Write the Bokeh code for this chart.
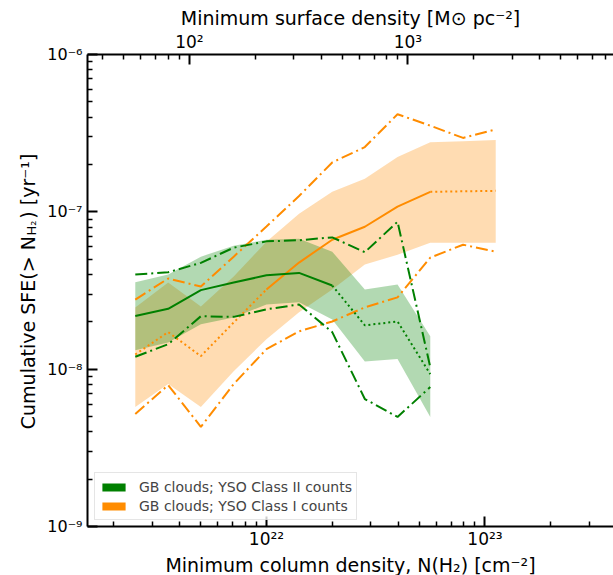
from bokeh.plotting import figure
from bokeh.layouts import row
from bokeh.models import (Range1d, LogScale, LogAxis, FixedTicker, CustomJSTickFormatter,
                          Legend, LegendItem, Title)
from bokeh.core.properties import value
from bokeh.embed import file_html
from bokeh.resources import INLINE

# ---- data ----
# minimum column density bins N(H2) [cm^-2]
nh2_orange = [2.51e21, 3.55e21, 5.01e21, 7.08e21, 1.00e22, 1.41e22,
              2.00e22, 2.82e22, 3.98e22, 5.62e22, 7.94e22, 1.12e23]
nh2_green = [2.51e21, 3.55e21, 5.01e21, 7.08e21, 1.00e22, 1.41e22,
             2.00e22, 2.82e22, 3.98e22, 5.62e22]

# YSO Class II counts (green)
green_med = [2.18e-8, 2.42e-8, 3.18e-8, 3.55e-8, 3.95e-8, 4.09e-8, 3.40e-8, 1.90e-8, 2.01e-8, 9.3e-9]
green_hi = [3.99e-8, 4.13e-8, 4.74e-8, 5.92e-8, 6.49e-8, 6.60e-8, 6.88e-8, 5.54e-8, 8.65e-8, 1.03e-8]
green_lo = [1.20e-8, 1.44e-8, 2.17e-8, 2.15e-8, 2.40e-8, 2.58e-8, 1.72e-8, 6.46e-9, 4.97e-9, 7.69e-9]
green_band_hi = [3.57e-8, 3.99e-8, 5.19e-8, 6.09e-8, 6.65e-8, 6.75e-8, 5.58e-8, 3.21e-8, 3.45e-8, 1.62e-8]
green_band_lo = [1.32e-8, 1.48e-8, 1.93e-8, 2.13e-8, 2.58e-8, 2.66e-8, 2.07e-8, 1.12e-8, 1.16e-8, 4.97e-9]

# YSO Class I counts (orange)
orange_med = [1.24e-8, 1.72e-8, 1.21e-8, 1.98e-8, 3.21e-8, 4.76e-8,
              6.65e-8, 8.04e-8, 1.08e-7, 1.34e-7, 1.35e-7, 1.36e-7]
orange_hi = [2.77e-8, 3.77e-8, 3.35e-8, 5.19e-8, 8.07e-8, 1.26e-7,
             2.06e-7, 2.58e-7, 4.17e-7, 3.53e-7, 2.95e-7, 3.34e-7]
orange_lo = [5.19e-9, 7.92e-9, 4.30e-9, 8.04e-9, 1.34e-8, 1.74e-8,
             2.01e-8, 2.47e-8, 2.86e-8, 5.12e-8, 6.18e-8, 5.58e-8]
orange_band_hi = [2.47e-8, 3.55e-8, 2.50e-8, 3.88e-8, 6.46e-8, 9.71e-8,
                  1.34e-7, 1.62e-7, 2.23e-7, 2.77e-7, 2.81e-7, 2.86e-7]
orange_band_lo = [5.75e-9, 8.04e-9, 5.75e-9, 9.71e-9, 1.55e-8, 2.30e-8,
                  3.21e-8, 4.62e-8, 5.34e-8, 6.37e-8, 6.37e-8, 6.37e-8]

labels = ["GB clouds; YSO Class II counts", "GB clouds; YSO Class I counts"]

# axis titles (y title split so the subscript can be smaller)
xlabel = "Minimum column density, N(H\u2082) [cm\u207b\u00b2]"
toplabel = "Minimum surface density [M\u2299 pc\u207b\u00b2]"
ylabel_parts = ["Cumulative SFE(> N", "H\u2082", ") [yr\u207b\u00b9]"]

# axis limits and conversion N(H2) -> surface density [Msun pc^-2]
X_START, X_END = 1.517e21, 3.875e23
Y_START, Y_END = 1e-9, 1e-6
SIGMA_PER_NH2 = 2.251e-20

x_major = [1e22, 1e23]
x_minor = [m * 10.0 ** e for e in (21, 22, 23) for m in range(2, 10)]
y_major = [1e-9, 1e-8, 1e-7, 1e-6]
y_minor = [m * 10.0 ** e for e in (-9, -8, -7) for m in range(2, 10)]
s_major = [1e2, 1e3]
s_minor = [m * 10.0 ** e for e in (1, 2, 3) for m in range(2, 10)]

FONT = "DejaVu Sans"
GREEN = "green"
ORANGE = "darkorange"
DASHDOT = "12 4 2 4"
DOTTED = "2 3"
LW = 2
H = 575
LAB_W = 40
TOP_B, BOT_B = 54, 48

p = figure(width=613 - LAB_W, height=H, x_axis_type="log", y_axis_type="log",
           x_range=Range1d(X_START, X_END), y_range=Range1d(Y_START, Y_END),
           output_backend="svg", toolbar_location=None, title=None,
           min_border_left=87 - LAB_W, min_border_right=0,
           min_border_top=TOP_B, min_border_bottom=BOT_B)
p.outline_line_color = None
p.grid.visible = False

bottom = p.below[0]
left = p.left[0]

p.extra_x_ranges = {"sigma": Range1d(X_START * SIGMA_PER_NH2, X_END * SIGMA_PER_NH2)}
p.extra_x_scales = {"sigma": LogScale()}
top = LogAxis(x_range_name="sigma")
p.add_layout(top, "above")

sup_code = """
const sup = {"-": "\u207b", "0": "\u2070", "1": "\u00b9", "2": "\u00b2", "3": "\u00b3",
             "4": "\u2074", "5": "\u2075", "6": "\u2076", "7": "\u2077", "8": "\u2078", "9": "\u2079"};
const e = Math.round(Math.log10(tick));
return "10" + String(e).split("").map(c => sup[c]).join("");
"""

def style_axis(ax, major, minor, size):
    ax.ticker = FixedTicker(ticks=major, minor_ticks=minor)
    ax.formatter = CustomJSTickFormatter(code=sup_code)
    ax.axis_line_width = 2
    ax.axis_line_color = "black"
    ax.major_tick_in = 10
    ax.major_tick_out = 0
    ax.minor_tick_in = 5
    ax.minor_tick_out = 0
    ax.major_tick_line_width = 2
    ax.minor_tick_line_width = 1.5
    ax.major_label_text_font = FONT
    ax.major_label_text_font_size = size
    ax.major_label_text_color = "black"
    ax.major_label_standoff = 3

style_axis(bottom, x_major, x_minor, "17px")
style_axis(left, y_major, y_minor, "16px")
style_axis(top, s_major, s_minor, "17px")
left.major_label_standoff = 5
bottom.major_label_standoff = 2

# axis titles as side-panel titles
title_style = dict(align="center", standoff=0, text_font=FONT,
                   text_font_size="19px", text_font_style="normal", text_color="black")
p.add_layout(Title(text=xlabel, **title_style), "below")
p.add_layout(Title(text=toplabel, **title_style), "above")

# bands
p.varea(x=nh2_orange, y1=orange_band_lo, y2=orange_band_hi, fill_color=ORANGE, fill_alpha=0.3)
p.varea(x=nh2_green, y1=green_band_lo, y2=green_band_hi, fill_color=GREEN, fill_alpha=0.3)

# orange lines
p.line(nh2_orange, orange_hi, line_color=ORANGE, line_width=LW, line_dash=DASHDOT)
p.line(nh2_orange, orange_lo, line_color=ORANGE, line_width=LW, line_dash=DASHDOT)
p.line(nh2_orange[:5], orange_med[:5], line_color=ORANGE, line_width=LW, line_dash=DOTTED)
p.line(nh2_orange[4:10], orange_med[4:10], line_color=ORANGE, line_width=LW)
p.line(nh2_orange[9:], orange_med[9:], line_color=ORANGE, line_width=LW, line_dash=DOTTED)

# green lines
p.line(nh2_green, green_hi, line_color=GREEN, line_width=LW, line_dash=DASHDOT)
p.line(nh2_green, green_lo, line_color=GREEN, line_width=LW, line_dash=DASHDOT)
p.line(nh2_green[:7], green_med[:7], line_color=GREEN, line_width=LW)
p.line(nh2_green[6:], green_med[6:], line_color=GREEN, line_width=LW, line_dash=DOTTED)

# legend proxies (hidden solid-colour patches spanning each band)
r_g = p.quad(left=[nh2_green[0]], right=[nh2_green[-1]],
             bottom=[min(green_band_lo)], top=[max(green_band_hi)],
             fill_color=GREEN, line_color=None, visible=False)
r_o = p.quad(left=[nh2_orange[0]], right=[nh2_orange[-1]],
             bottom=[min(orange_band_lo)], top=[max(orange_band_hi)],
             fill_color=ORANGE, line_color=None, visible=False)
legend = Legend(items=[LegendItem(label=labels[0], renderers=[r_g]),
                       LegendItem(label=labels[1], renderers=[r_o])],
                location=(7, 6), label_text_font=FONT, label_text_font_size="14px",
                glyph_width=29, glyph_height=10, label_standoff=11, label_height=19,
                padding=4, spacing=0, margin=0,
                border_line_color="#cccccc", border_line_width=1,
                background_fill_alpha=0.8)
p.add_layout(legend)

# narrow strip (no axes) holding the rotated y-axis title; its frame matches the main
# frame vertically, and its y range is in pixels measured up from the canvas bottom
lab = figure(width=LAB_W, height=H, x_range=Range1d(0, LAB_W), y_range=Range1d(BOT_B, H - TOP_B),
             output_backend="svg", toolbar_location=None, title=None,
             x_axis_location=None, y_axis_location=None,
             min_border_left=0, min_border_right=0, min_border_top=TOP_B, min_border_bottom=BOT_B)
lab.grid.visible = False
lab.outline_line_color = None
txt = dict(angle=1.5707963, text_font=value(FONT), text_color="black",
           text_align="left", text_baseline="alphabetic")
lab.text(x=[27], y=[145.5], text=[ylabel_parts[0]], text_font_size="19px", **txt)
lab.text(x=[31], y=[339.5], text=[ylabel_parts[1]], text_font_size="13px", **txt)
lab.text(x=[27], y=[356.5], text=[ylabel_parts[2]], text_font_size="19px", **txt)

layout = row(lab, p, spacing=0)
open("out.html", "w").write(file_html(layout, INLINE))
